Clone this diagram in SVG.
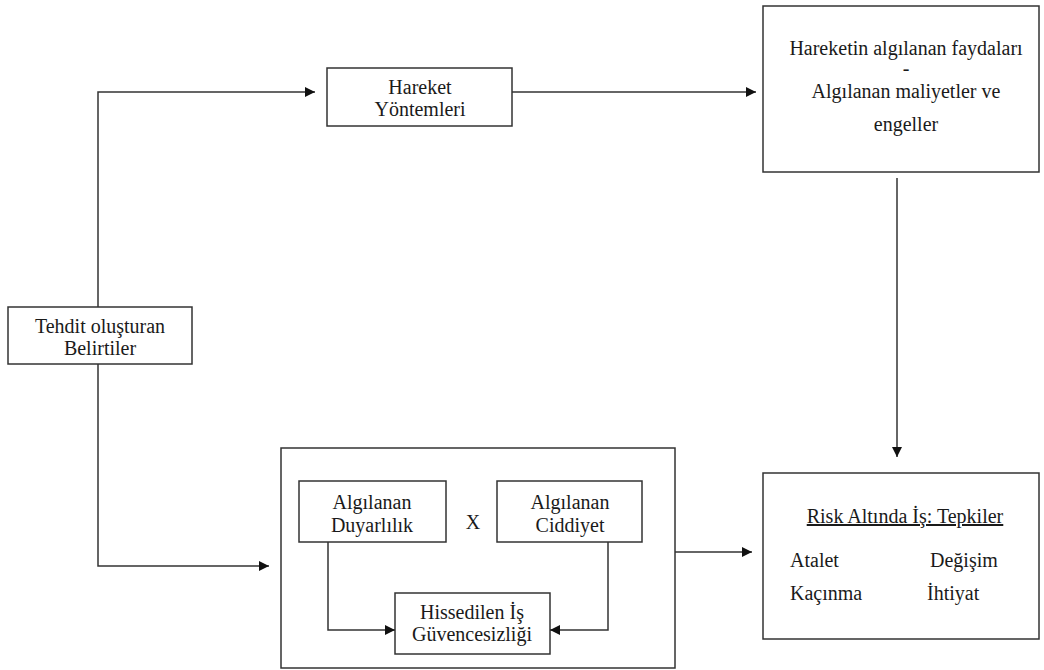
<svg xmlns="http://www.w3.org/2000/svg" width="1044" height="670" viewBox="0 0 1044 670">
<defs>
<marker id="ah" viewBox="0 0 10 10" refX="10" refY="5" markerWidth="10" markerHeight="10" markerUnits="userSpaceOnUse" orient="auto">
<path d="M0,0 L10,5 L0,10 z" fill="#111"/>
</marker>
<style>
.box{fill:#fff;stroke:#333;stroke-width:1.5}
.t{font-family:"Liberation Serif","Times New Roman",serif;font-size:20px;fill:#1a1a1a;text-anchor:middle}
.l{font-family:"Liberation Serif","Times New Roman",serif;font-size:20px;fill:#1a1a1a}
.c{fill:none;stroke:#333;stroke-width:1.5}
</style>
</defs>
<rect width="1044" height="670" fill="#fff"/>
<g id="tehdit">
<rect class="box" x="8" y="307" width="184" height="57"/>
<text class="t" x="100" y="333">Tehdit oluşturan</text>
<text class="t" x="100" y="355">Belirtiler</text>
</g>
<g id="hareket">
<rect class="box" x="327" y="68" width="185" height="58"/>
<text class="t" x="420" y="94">Hareket</text>
<text class="t" x="420" y="116">Yöntemleri</text>
</g>
<g id="fayda">
<rect class="box" x="763" y="6" width="276" height="166"/>
<text class="t" x="906" y="55">Hareketin algılanan faydaları</text>
<text class="t" x="906" y="75">-</text>
<text class="t" x="906" y="98">Algılanan maliyetler ve</text>
<text class="t" x="906" y="131">engeller</text>
</g>
<g id="container">
<rect class="box" x="281" y="448" width="394" height="220"/>
</g>
<g id="duyarlilik">
<rect class="box" x="299" y="481" width="147" height="61"/>
<text class="t" x="372" y="509">Algılanan</text>
<text class="t" x="372" y="532">Duyarlılık</text>
</g>
<g id="x">
<text class="t" x="473" y="529">X</text>
</g>
<g id="ciddiyet">
<rect class="box" x="497" y="481" width="145" height="61"/>
<text class="t" x="570" y="509">Algılanan</text>
<text class="t" x="570" y="532">Ciddiyet</text>
</g>
<g id="hissedilen">
<rect class="box" x="395" y="593" width="155" height="61"/>
<text class="t" x="472" y="619">Hissedilen İş</text>
<text class="t" x="472" y="641">Güvencesizliği</text>
</g>
<g id="risk">
<rect class="box" x="763" y="473" width="276" height="166"/>
<text class="t" x="905" y="523" text-decoration="underline">Risk Altında İş: Tepkiler</text>
<text class="l" x="790" y="567">Atalet</text>
<text class="l" x="930" y="567">Değişim</text>
<text class="l" x="790" y="600">Kaçınma</text>
<text class="l" x="927" y="600">İhtiyat</text>
</g>
<g id="connectors">
<path class="c" d="M98,307 V92 H315" marker-end="url(#ah)"/>
<path class="c" d="M512,92 H756" marker-end="url(#ah)"/>
<path class="c" d="M897,178 V457" marker-end="url(#ah)"/>
<path class="c" d="M98,364 V566 H269" marker-end="url(#ah)"/>
<path class="c" d="M675,552 H752" marker-end="url(#ah)"/>
<path class="c" d="M328,542 V630 H395" marker-end="url(#ah)"/>
<path class="c" d="M608,542 V630 H550" marker-end="url(#ah)"/>
</g>
</svg>
